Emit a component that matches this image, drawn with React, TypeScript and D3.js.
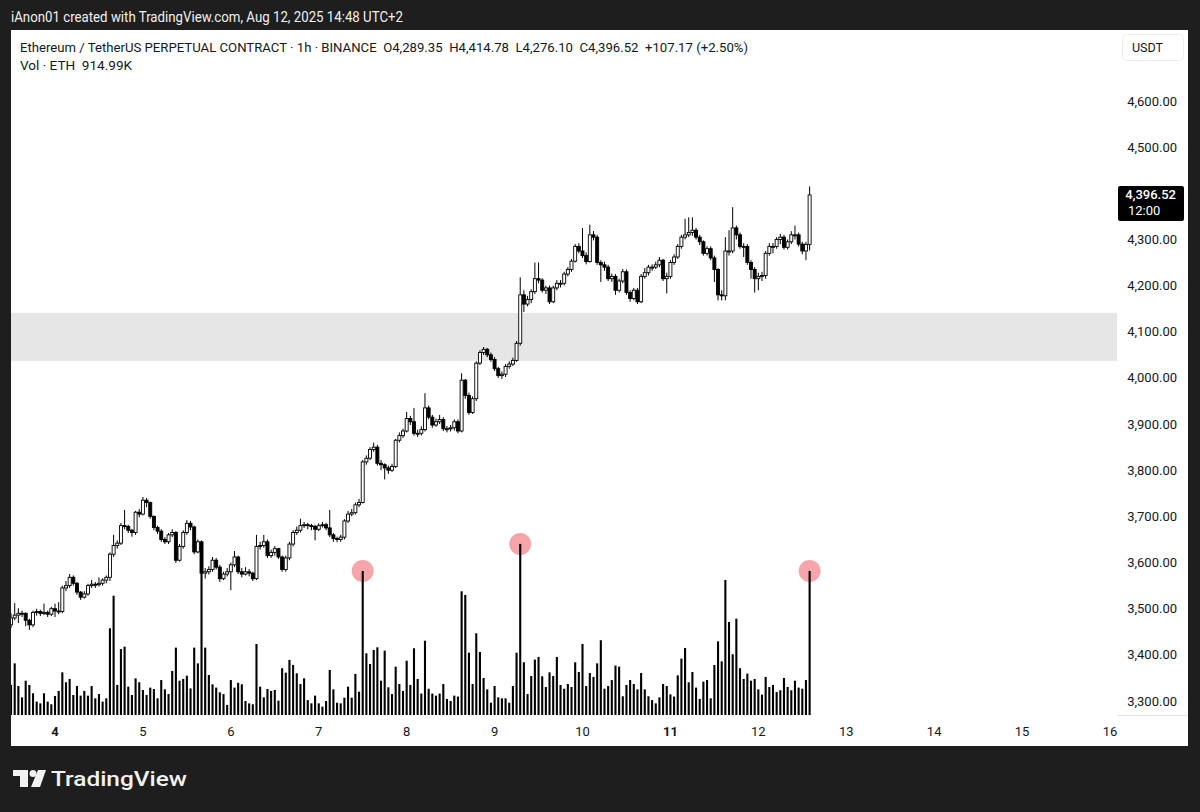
import React from 'react';
import * as d3 from 'd3';

// ETHUSDT.P 1h candles, Aug 3 12:00 -> Aug 12 14:00 (UTC+2)
const FIRST_HOUR = -12; // hours relative to Aug 4 00:00
const FIRST_OPEN = 3465;

const closes = [
  3480, 3486, 3490, 3490, 3475, 3465, 3492, 3494, 3490, 3492, 3488, 3500,
  3495, 3494, 3545, 3550, 3568, 3555, 3536, 3525, 3532, 3550,
  3553, 3552, 3555, 3562, 3568, 3618, 3637, 3642, 3680, 3678,
  3670, 3665, 3709, 3705, 3735, 3730, 3700, 3676, 3668, 3650,
  3645, 3660, 3665, 3605, 3635, 3665, 3685, 3677, 3623, 3645,
  3577, 3580, 3585, 3605, 3590, 3565, 3575, 3580, 3595, 3612,
  3580, 3575, 3580, 3577, 3565, 3635, 3637, 3645, 3615, 3622,
  3630, 3612, 3585, 3610, 3640, 3665, 3670, 3680, 3682, 3680,
  3678, 3672, 3680, 3682, 3675, 3660, 3652, 3650, 3655, 3690,
  3705, 3708, 3725, 3730, 3818, 3826, 3845, 3850, 3815, 3812,
  3805, 3800, 3808, 3865, 3875, 3885, 3912, 3905, 3880, 3880,
  3888, 3935, 3915, 3898, 3905, 3910, 3890, 3890, 3892, 3905,
  3885, 3995, 3962, 3925, 3955, 4032, 4055, 4062, 4050, 4040,
  4020, 4005, 4008, 4025, 4030, 4038, 4075, 4180, 4160, 4170,
  4187, 4215, 4212, 4190, 4195, 4165, 4195, 4205, 4205, 4225,
  4235, 4253, 4285, 4275, 4265, 4252, 4310, 4305, 4250, 4245,
  4240, 4215, 4220, 4190, 4210, 4230, 4185, 4172, 4190, 4165,
  4220, 4228, 4240, 4240, 4245, 4255, 4215, 4220, 4250, 4262,
  4285, 4305, 4310, 4315, 4320, 4305, 4295, 4270, 4280, 4260,
  4235, 4180, 4178, 4275, 4275, 4325, 4310, 4285, 4285, 4250,
  4235, 4215, 4220, 4222, 4270, 4285, 4285, 4300, 4305, 4283,
  4295, 4310, 4310, 4290, 4275, 4289.35, 4396.52,
];

const highs = [
  3490, 3512, 3501, 3496, 3492, 3478, 3496, 3500, 3498, 3511, 3496, 3504,
  3511, 3514, 3550, 3560, 3575, 3572, 3558, 3538, 3538, 3554,
  3562, 3558, 3568, 3566, 3572, 3622, 3660, 3648, 3686, 3714,
  3682, 3673, 3712, 3716, 3742, 3740, 3732, 3702, 3680, 3672,
  3655, 3664, 3672, 3668, 3640, 3670, 3692, 3690, 3680, 3650,
  3648, 3588, 3592, 3612, 3610, 3595, 3580, 3588, 3600, 3625,
  3615, 3588, 3590, 3586, 3580, 3660, 3645, 3660, 3650, 3628,
  3636, 3632, 3615, 3615, 3645, 3670, 3678, 3695, 3688, 3686,
  3684, 3682, 3685, 3688, 3686, 3714, 3664, 3656, 3660, 3694,
  3712, 3716, 3730, 3738, 3822, 3832, 3850, 3860, 3855, 3822,
  3815, 3810, 3814, 3868, 3882, 3890, 3926, 3918, 3935, 3888,
  3895, 3967, 3940, 3920, 3912, 3920, 3915, 3896, 3898, 3910,
  3910, 4010, 3998, 3968, 3960, 4036, 4060, 4067, 4065, 4055,
  4045, 4024, 4014, 4030, 4036, 4044, 4080, 4218, 4190, 4178,
  4192, 4250, 4250, 4216, 4200, 4200, 4200, 4212, 4212, 4230,
  4240, 4258, 4290, 4292, 4325, 4272, 4332, 4318, 4310, 4255,
  4252, 4245, 4226, 4225, 4215, 4236, 4235, 4190, 4195, 4195,
  4225, 4238, 4245, 4246, 4252, 4262, 4258, 4228, 4255, 4268,
  4290, 4310, 4345, 4348, 4348, 4325, 4310, 4298, 4285, 4285,
  4265, 4238, 4190, 4305, 4320, 4370, 4330, 4315, 4292, 4290,
  4255, 4240, 4228, 4230, 4275, 4292, 4292, 4305, 4312, 4310,
  4300, 4318, 4330, 4315, 4295, 4295, 4414.78,
];

const lows = [
  3458, 3475, 3469, 3482, 3462, 3454, 3460, 3485, 3484, 3486, 3482, 3484,
  3482, 3488, 3490, 3538, 3545, 3550, 3530, 3519, 3522, 3528,
  3545, 3545, 3548, 3550, 3555, 3560, 3612, 3630, 3638, 3672,
  3664, 3656, 3660, 3698, 3702, 3720, 3695, 3670, 3662, 3645,
  3640, 3640, 3655, 3599, 3602, 3630, 3660, 3670, 3618, 3620,
  3568, 3565, 3574, 3580, 3585, 3558, 3562, 3570, 3540, 3590,
  3575, 3568, 3572, 3570, 3560, 3562, 3628, 3632, 3610, 3610,
  3615, 3608, 3580, 3580, 3605, 3635, 3660, 3665, 3675, 3672,
  3670, 3648, 3668, 3676, 3670, 3655, 3645, 3644, 3645, 3650,
  3686, 3700, 3704, 3720, 3728, 3812, 3822, 3840, 3810, 3800,
  3780, 3792, 3796, 3805, 3860, 3870, 3882, 3898, 3875, 3872,
  3875, 3884, 3910, 3892, 3894, 3900, 3885, 3882, 3884, 3886,
  3880, 3882, 3955, 3920, 3922, 3950, 4028, 4050, 4045, 4035,
  4015, 4000, 3998, 4002, 4020, 4026, 4035, 4070, 4143, 4155,
  4162, 4182, 4205, 4185, 4182, 4160, 4162, 4190, 4196, 4200,
  4220, 4230, 4250, 4270, 4260, 4246, 4250, 4298, 4245, 4208,
  4232, 4210, 4208, 4180, 4185, 4205, 4180, 4165, 4168, 4160,
  4162, 4215, 4222, 4232, 4236, 4240, 4210, 4183, 4215, 4245,
  4258, 4280, 4300, 4305, 4308, 4300, 4288, 4265, 4265, 4255,
  4208, 4168, 4168, 4168, 4265, 4270, 4300, 4280, 4262, 4245,
  4215, 4185, 4190, 4210, 4215, 4265, 4270, 4280, 4290, 4278,
  4278, 4290, 4300, 4285, 4268, 4255, 4276.1,
];

// volume in thousands of ETH
const volumes = [
  191, 328, 184, 112, 218, 191, 138, 85, 74, 138, 85, 68,
  121, 153, 271, 208, 229, 127, 184, 123, 153, 123,
  184, 106, 133, 85, 106, 551, 758, 191, 419, 434,
  180, 127, 233, 208, 159, 127, 174, 165, 106, 222,
  163, 133, 280, 428, 218, 229, 250, 169, 428, 328,
  921, 428, 254, 195, 174, 144, 133, 64, 222, 174,
  205, 195, 89, 74, 68, 451, 180, 112, 165, 153,
  159, 91, 297, 269, 350, 318, 265, 197, 233, 95,
  74, 123, 74, 53, 89, 286, 163, 78, 74, 110,
  180, 110, 261, 148, 915, 392, 324, 413, 430, 218,
  409, 176, 133, 307, 197, 153, 345, 191, 424, 229,
  136, 472, 167, 136, 123, 136, 197, 102, 89, 123,
  117, 786, 763, 396, 197, 519, 400, 235, 163, 78,
  184, 112, 106, 106, 78, 184, 396, 1087, 335, 133,
  248, 352, 369, 246, 178, 271, 248, 369, 191, 167,
  197, 178, 335, 273, 451, 184, 267, 242, 328, 475,
  167, 184, 222, 314, 307, 119, 191, 222, 197, 163,
  267, 163, 119, 95, 74, 112, 197, 184, 131, 117,
  252, 358, 426, 208, 273, 174, 102, 212, 222, 106,
  318, 468, 341, 858, 591, 386, 612, 297, 229, 263,
  218, 229, 163, 129, 242, 178, 191, 146, 157, 235,
  178, 157, 218, 174, 167, 222, 914.99,
];

const markedHours = [84, 127, 206];
const dayTicks = [4, 5, 6, 7, 8, 9, 10, 11, 12, 13, 14, 15, 16];
const boldDays = [4, 11];
const priceTicks = [3300, 3400, 3500, 3600, 3700, 3800, 3900, 4000, 4100, 4200, 4300, 4400, 4500, 4600];
const zoneLow = 4037;
const zoneHigh = 4141;
const lastPrice = 4396.52;
const countdown = '12:00';

const FONT = "Roboto, 'Noto Sans', 'DejaVu Sans', sans-serif";
const INK = '#131722';

const W = 1200;
const H = 812;
const panel = { left: 11, top: 30, right: 1188, bottom: 746 };
const plotRight = 1117;
const volBase = 715;

const hourMs = 3600 * 1000;
const t0 = Date.UTC(2025, 7, 4);

const App: React.FC = () => {
  const x = d3.scaleUtc()
    .domain([new Date(t0), new Date(Date.UTC(2025, 7, 16))])
    .range([55, 1110]);
  const y = d3.scaleLinear().domain([3300, 4600]).range([701, 101]);
  const yVol = d3.scaleLinear().domain([0, 1000]).range([volBase, volBase - 157.4]);

  const candles = closes.map((c, k) => {
    const o = k === 0 ? FIRST_OPEN : closes[k - 1];
    const hour = FIRST_HOUR + k;
    return {
      hour,
      t: new Date(t0 + hour * hourMs),
      o, c,
      h: Math.max(highs[k], o, c),
      l: Math.min(lows[k], o, c),
      v: volumes[k],
    };
  });

  const bw = 3;
  const vw = 2.1;

  return (
    <div style={{ position: 'absolute', left: 0, top: 0, width: W, height: H }}>
      <svg width={W} height={H} style={{ display: 'block' }}>
        <defs>
          <clipPath id="plotClip">
            <rect x={panel.left} y={panel.top} width={plotRight - panel.left} height={volBase - panel.top + 1} />
          </clipPath>
        </defs>
        <rect x={0} y={0} width={W} height={H} fill="#1e1e1e" />
        <text x={11} y={22} fill="#f0f0f0" fontFamily={FONT} fontSize={14} textLength={392} lengthAdjust="spacingAndGlyphs">
          iAnon01 created with TradingView.com, Aug 12, 2025 14:48 UTC+2
        </text>

        <rect x={panel.left} y={panel.top} width={panel.right - panel.left} height={panel.bottom - panel.top} fill="#ffffff" />

        <g clipPath="url(#plotClip)">
          <rect x={panel.left} y={y(zoneHigh)} width={plotRight - panel.left} height={y(zoneLow) - y(zoneHigh)} fill="#e6e6e6" />

          {candles.filter(d => markedHours.includes(d.hour)).map(d => (
            <circle key={'m' + d.hour} cx={x(d.t)} cy={yVol(d.v)} r={11} fill="#f6a5aa" />
          ))}

          {candles.map(d => (
            <rect key={'v' + d.hour} x={x(d.t) - vw / 2} y={yVol(d.v)} width={vw} height={volBase - yVol(d.v)} fill="#000" />
          ))}

          {candles.map(d => {
            const cx = x(d.t);
            const up = d.c >= d.o;
            const top = y(Math.max(d.o, d.c));
            const bot = y(Math.min(d.o, d.c));
            return (
              <g key={'c' + d.hour}>
                <line x1={cx} x2={cx} y1={y(d.h)} y2={y(d.l)} stroke="#000" strokeWidth={1} />
                <rect
                  x={cx - bw / 2}
                  y={top}
                  width={bw}
                  height={Math.max(bot - top, 1)}
                  fill={up ? '#ffffff' : '#000000'}
                  stroke="#000"
                  strokeWidth={0.9}
                />
              </g>
            );
          })}
        </g>

        <text x={20} y={52} fill={INK} fontFamily={FONT} fontSize={13} textLength={728} lengthAdjust="spacingAndGlyphs">
          {'Ethereum / TetherUS PERPETUAL CONTRACT · 1h · BINANCE\u00a0\u00a0O4,289.35\u00a0\u00a0H4,414.78\u00a0\u00a0L4,276.10\u00a0\u00a0C4,396.52\u00a0\u00a0+107.17 (+2.50%)'}
        </text>
        <text x={20} y={70} fill={INK} fontFamily={FONT} fontSize={13} textLength={112} lengthAdjust="spacingAndGlyphs">
          {'Vol · ETH\u00a0\u00a0914.99K'}
        </text>

        {/* price axis */}
        <rect x={1122.5} y={34.5} width={61} height={26} rx={4} fill="#fff" stroke="#eceef2" />
        <text x={1132} y={52} fill={INK} fontFamily={FONT} fontSize={12.5}>USDT</text>
        {priceTicks.map(p => (
          <text key={p} x={1177} y={y(p) + 4.5} textAnchor="end" fill={INK} fontFamily={FONT} fontSize={13}>
            {d3.format(',.2f')(p)}
          </text>
        ))}
        <rect x={1118} y={y(lastPrice) - 9} width={66} height={35} rx={2} fill="#000" />
        <text x={1176} y={y(lastPrice) + 4.5} textAnchor="end" fill="#fff" fontFamily={FONT} fontSize={13} fontWeight={500}>
          {d3.format(',.2f')(lastPrice)}
        </text>
        <text x={1128} y={y(lastPrice) + 20} fill="#fff" fontFamily={FONT} fontSize={13}>{countdown}</text>
        <line x1={plotRight} x2={panel.right} y1={volBase + 0.5} y2={volBase + 0.5} stroke="#e0e3eb" />

        {/* time axis */}
        {dayTicks.map(dd => (
          <text
            key={dd}
            x={x(new Date(Date.UTC(2025, 7, dd)))}
            y={736}
            textAnchor="middle"
            fill={INK}
            fontFamily={FONT}
            fontSize={13}
            fontWeight={boldDays.includes(dd) ? 700 : 400}
          >
            {dd}
          </text>
        ))}

        {/* TradingView logo */}
        <g fill="#f2f2f2">
          <rect x={13} y={770} width={15} height={6} />
          <rect x={20} y={770} width={8} height={17} />
          <circle cx={33} cy={773.5} r={3.5} />
          <polygon points="38,770 46,770 40,787 31,787" />
        </g>
        <text x={51} y={786} fill="#f2f2f2" fontFamily={FONT} fontSize={21} fontWeight={500} textLength={136} lengthAdjust="spacingAndGlyphs">
          TradingView
        </text>
      </svg>
    </div>
  );
};

export default App;
